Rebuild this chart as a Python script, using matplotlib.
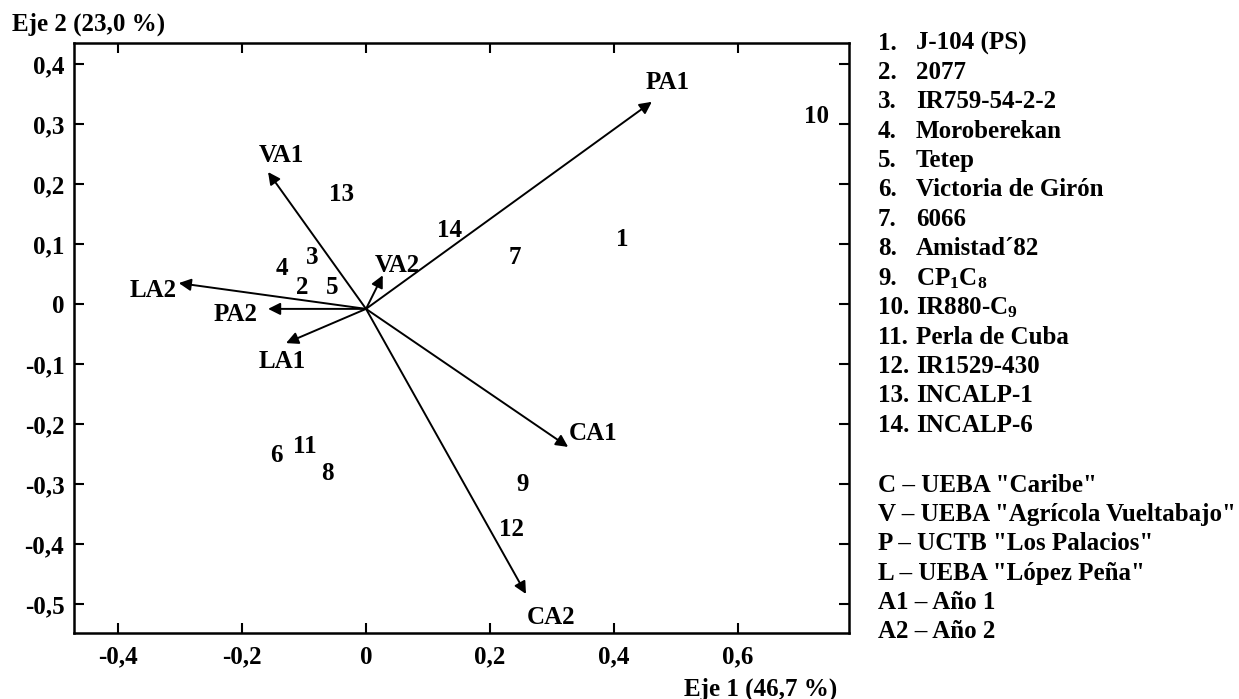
import matplotlib
matplotlib.use("Agg")
import matplotlib.pyplot as plt

plt.rcParams['font.family'] = ['Liberation Serif', 'DejaVu Serif']
plt.rcParams['font.weight'] = 'bold'
plt.rcParams['mathtext.default'] = 'regular'

# Variable vectors (arrows) -- biplot loadings
vec_names = ["PA1", "VA1", "VA2", "LA2", "PA2", "LA1", "CA1", "CA2"]
vec_x = [0.461, -0.158, 0.027, -0.302, -0.158, -0.129, 0.326, 0.258]
vec_y = [0.337, 0.220, 0.048, 0.035, -0.008, -0.065, -0.238, -0.483]
origin = (0.0, -0.008)
# label positions for vectors
vec_lab_x = [0.487, -0.137, 0.050, -0.344, -0.211, -0.135, 0.366, 0.298]
vec_lab_y = [0.370, 0.248, 0.065, 0.023, -0.018, -0.095, -0.215, -0.522]

# Genotype scores
pt_labels = ["1", "2", "3", "4", "5", "6", "7", "8", "9", "10", "11", "12", "13", "14"]
pt_x = [0.413, -0.103, -0.087, -0.135, -0.054, -0.144, 0.240, -0.063, 0.253, 0.727, -0.098, 0.235, -0.039, 0.135]
pt_y = [0.108, 0.027, 0.077, 0.060, 0.027, -0.253, 0.078, -0.282, -0.300, 0.313, -0.237, -0.375, 0.183, 0.123]

xticks = [-0.4, -0.2, 0, 0.2, 0.4, 0.6]
xtick_labels = ["-0,4", "-0,2", "0", "0,2", "0,4", "0,6"]
yticks = [0.4, 0.3, 0.2, 0.1, 0, -0.1, -0.2, -0.3, -0.4, -0.5]
ytick_labels = ["0,4", "0,3", "0,2", "0,1", "0", "-0,1", "-0,2", "-0,3", "-0,4", "-0,5"]

genotypes = ["J-104 (PS)", "2077", "IR759-54-2-2", "Moroberekan", "Tetep",
             "Victoria de Girón", "6066", "Amistad´82", "CP$_1$C$_8$", "IR880-C$_9$",
             "Perla de Cuba", "IR1529-430", "INCALP-1", "INCALP-6"]
codes = ['C – UEBA "Caribe"', 'V – UEBA "Agrícola Vueltabajo"', 'P – UCTB "Los Palacios"',
         'L – UEBA "López Peña"', 'A1 – Año 1', 'A2 – Año 2']

W, H = 1239, 699
fig = plt.figure(figsize=(W / 100, H / 100), dpi=100)
ax = fig.add_axes([74 / W, 1 - 633 / H, (849 - 74) / W, (633 - 43) / H])
ax.set_xlim(-0.471, 0.779)
ax.set_ylim(-0.548, 0.435)

fs = 18
for nx, ny, lx, ly, nm in zip(vec_x, vec_y, vec_lab_x, vec_lab_y, vec_names):
    ax.annotate("", xy=(nx, ny), xytext=origin,
                arrowprops=dict(arrowstyle='-|>', lw=1.4, color='black',
                                mutation_scale=18, shrinkA=0, shrinkB=0))
    ax.text(lx, ly, nm, ha='center', va='center', fontsize=fs, fontweight='bold')

for px, py, lab in zip(pt_x, pt_y, pt_labels):
    ax.text(px, py, lab, ha='center', va='center', fontsize=fs, fontweight='bold')

ax.set_xticks(xticks)
ax.set_xticklabels(xtick_labels)
ax.set_yticks(yticks)
ax.set_yticklabels(ytick_labels)
ax.tick_params(direction='in', length=7, width=1.5, top=True, right=True,
               labelsize=fs)
ax.tick_params(axis='y', pad=7)
ax.tick_params(axis='x', pad=9)
for lab in ax.get_xticklabels() + ax.get_yticklabels():
    lab.set_fontweight('bold')
for sp in ax.spines.values():
    sp.set_linewidth(1.8)

fig.text(12 / W, 1 - 24 / H, "Eje 2 (23,0 %)", ha='left', va='center', fontsize=fs, fontweight='bold')
fig.text(837 / W, 1 - 689 / H, "Eje 1 (46,7 %)", ha='right', va='center', fontsize=fs, fontweight='bold')

lfs = 18
y0 = 43
dy = 29.4
for i, g in enumerate(genotypes):
    y = 1 - (y0 + i * dy) / H
    fig.text(878 / W, y, f"{i + 1}.", ha='left', va='center', fontsize=lfs, fontweight='bold')
    fig.text(916 / W, y, g, ha='left', va='center', fontsize=lfs, fontweight='bold')

y1 = 485
for i, c in enumerate(codes):
    y = 1 - (y1 + i * dy) / H
    fig.text(878 / W, y, c, ha='left', va='center', fontsize=lfs, fontweight='bold')

fig.savefig("out.png", dpi=100)
